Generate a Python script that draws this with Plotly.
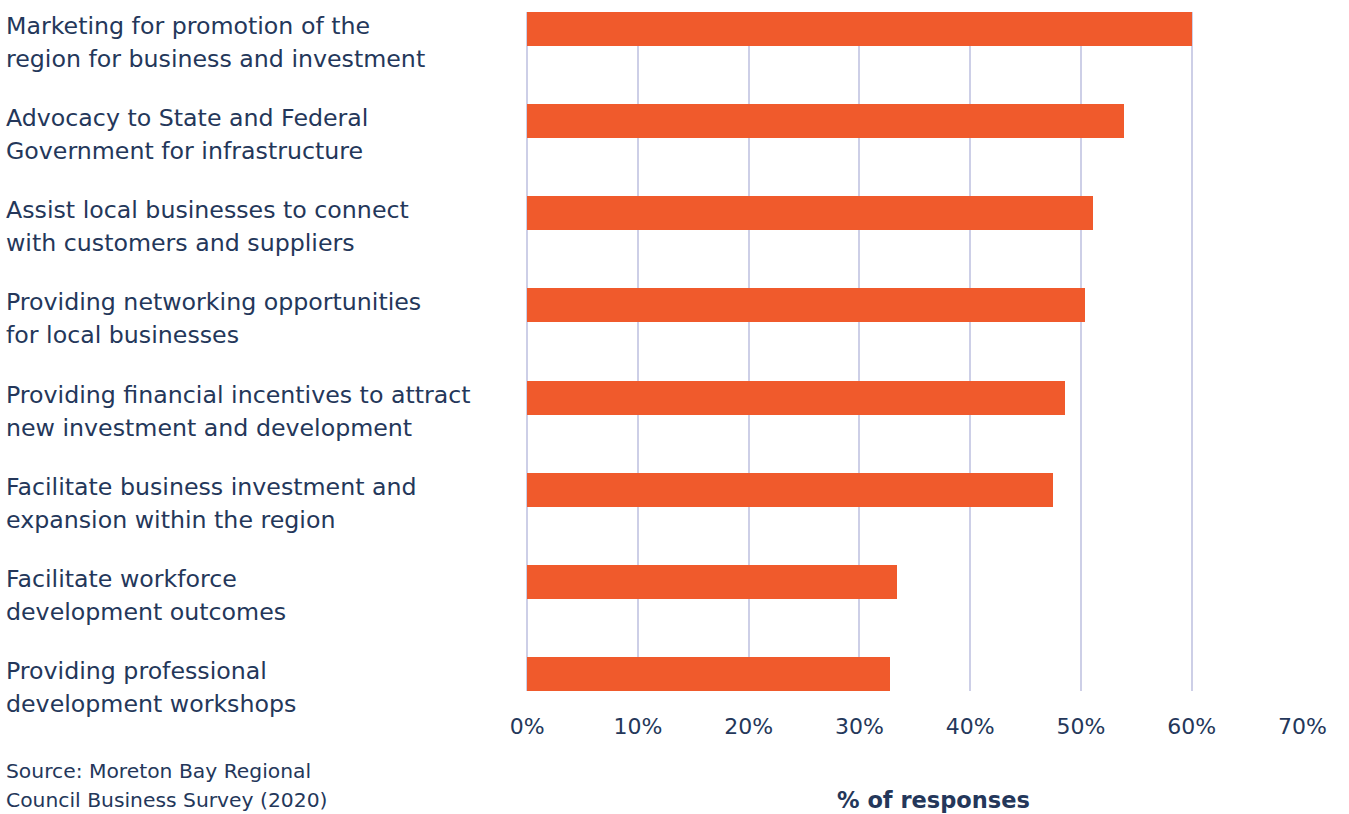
import plotly.graph_objects as go

# Survey options (two display lines each) and share of responses (%)
categories = [
    "Marketing for promotion of the|region for business and investment",
    "Advocacy to State and Federal|Government for infrastructure",
    "Assist local businesses to connect|with customers and suppliers",
    "Providing networking opportunities|for local businesses",
    "Providing financial incentives to attract|new investment and development",
    "Facilitate business investment and|expansion within the region",
    "Facilitate workforce|development outcomes",
    "Providing professional|development workshops",
]
values = [60.0, 53.9, 51.1, 50.4, 48.6, 47.5, 33.4, 32.8]
tick_values = [0, 10, 20, 30, 40, 50, 60, 70]
tick_labels = ["0%", "10%", "20%", "30%", "40%", "50%", "60%", "70%"]
source_lines = ["Source: Moreton Bay Regional", "Council Business Survey (2020)"]
axis_title = "% of responses"

BAR = "#F05A2C"
TEXT = "#24375A"
GRID = "#CDCFE7"
FONT = "DejaVu Sans"

W, H = 1349, 814
L, R, T, B = 526, 46, 12, 123
plot_w = W - L - R
plot_h = H - T - B

fig = go.Figure(
    go.Bar(
        x=values,
        y=categories,
        orientation="h",
        marker=dict(color=BAR, line=dict(width=0)),
        width=0.37,
        hoverinfo="skip",
    )
)

# Category labels, left aligned at the page edge, one annotation per line
label_x = (4 - L) / plot_w
for cat in categories:
    first, second = cat.split("|")
    for text, shift in ((first, 3), (second, -30)):
        fig.add_annotation(
            x=label_x, xref="paper", xanchor="left",
            y=cat, yref="y", yanchor="middle", yshift=shift,
            text=text, showarrow=False, align="left",
            font=dict(family=FONT, size=23.7, color=TEXT),
        )

# Source note at the bottom left
for text, ypix in zip(source_lines, (771, 800)):
    fig.add_annotation(
        x=label_x, xref="paper", xanchor="left",
        y=1 - (ypix - T) / plot_h, yref="paper", yanchor="middle",
        text=text, showarrow=False, align="left",
        font=dict(family=FONT, size=20.3, color=TEXT),
    )

# Axis title
fig.add_annotation(
    x=(933 - L) / plot_w, xref="paper", xanchor="center",
    y=1 - (800 - T) / plot_h, yref="paper", yanchor="middle",
    text=f"<b>{axis_title}</b>", showarrow=False,
    font=dict(family=FONT, size=22.5, color=TEXT),
)

fig.update_layout(
    width=W, height=H,
    margin=dict(l=L, r=R, t=T, b=B, pad=0),
    paper_bgcolor="white", plot_bgcolor="white",
    showlegend=False,
    bargap=0,
    xaxis=dict(
        range=[-0.1, 70.05],
        tickvals=tick_values, ticktext=tick_labels,
        showgrid=True, gridcolor=GRID, gridwidth=2,
        zeroline=True, zerolinecolor=GRID, zerolinewidth=2,
        showline=False, ticks="",
        ticklabelstandoff=20,
        tickfont=dict(family=FONT, size=22, color=TEXT),
        fixedrange=True,
    ),
    yaxis=dict(
        type="category",
        categoryorder="array", categoryarray=categories,
        range=[len(categories) - 1 + 0.185, -0.185],
        showticklabels=False, showgrid=False, zeroline=False,
        showline=False, ticks="", fixedrange=True,
    ),
)

fig.write_html("out.html", config={"displayModeBar": False})
